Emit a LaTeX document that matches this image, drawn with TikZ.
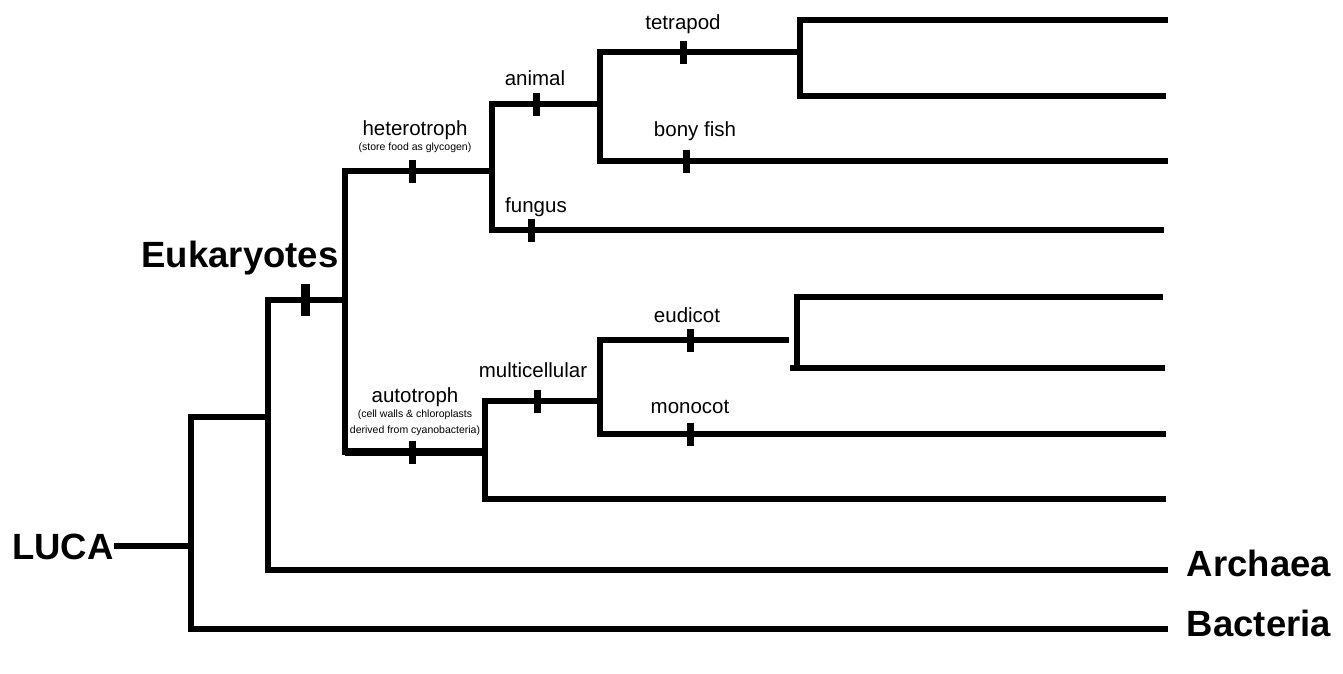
\documentclass[tikz,border=0pt]{standalone}
\usepackage{fontspec}
\setmainfont{Liberation Sans}
\usetikzlibrary{calc}

\begin{document}
\begin{tikzpicture}[x=1pt,y=-1pt,
  branch/.style={line width=6pt,line join=miter},
  tick/.style={line width=7pt},
  lab/.style={anchor=base,inner sep=0pt,font=\fontsize{20.5}{22}\selectfont},
  note/.style={anchor=base,inner sep=0pt,font=\fontsize{10.5}{12}\selectfont},
  big/.style={anchor=base,inner sep=0pt,font=\bfseries\fontsize{36.5}{40}\selectfont}]
\useasboundingbox (0,0) rectangle (1343,673);
% branch points
\coordinate (R) at (191,546);
\coordinate (R1) at (191,417);
\coordinate (R2) at (268,417);
\coordinate (RB) at (191,629);
\coordinate (BT) at (1168,629);
\coordinate (A1) at (268,300);
\coordinate (A2) at (268,570);
\coordinate (AT) at (1168,570);
\coordinate (E) at (345,300);
\coordinate (H1) at (345,171);
\coordinate (H2) at (492,171);
\coordinate (P1) at (345,452);
\coordinate (P2) at (485,452);
\coordinate (N1) at (492,104);
\coordinate (N2) at (600,104);
\coordinate (F1) at (492,230);
\coordinate (FT) at (1164,230);
\coordinate (T1) at (600,52);
\coordinate (T2) at (800,52);
\coordinate (T3) at (800,20);
\coordinate (T4) at (800,96);
\coordinate (TA) at (1168,20);
\coordinate (TB) at (1166,96);
\coordinate (B1) at (600,161);
\coordinate (BF) at (1168,161);
\coordinate (M1) at (485,401);
\coordinate (M2) at (600,401);
\coordinate (M3) at (485,499);
\coordinate (MT) at (1166,499);
\coordinate (D1) at (600,340);
\coordinate (D2) at (789,340);
\coordinate (D3) at (797,297);
\coordinate (D4) at (797,368);
\coordinate (D5) at (790,368);
\coordinate (DA) at (1163,297);
\coordinate (DB) at (1165,368);
\coordinate (O1) at (600,434);
\coordinate (OT) at (1166,434);
% names
\node[big] (luca) at (63,559) {LUCA};
\node[big] (arch) at (1259,576) {Archaea};
\node[big] (bact) at (1259,636) {Bacteria};
\node[big] (euk) at (240,267) {Eukaryotes};
\node[lab] (het) at (415,135) {heterotroph};
\node[note] (hetn) at (415,150) {(store food as glycogen)};
\node[lab] (aut) at (415,402) {autotroph};
\node[note] (autn) at (415,417) {(cell walls \& chloroplasts};
\node[note] (autm) at (415,433) {derived from cyanobacteria)};
\node[lab] (ani) at (535,85) {animal};
\node[lab] (fun) at (536,212) {fungus};
\node[lab] (tet) at (683,29) {tetrapod};
\node[lab] (bon) at (695,136) {bony fish};
\node[lab] (mul) at (533,377) {multicellular};
\node[lab] (eud) at (687,322) {eudicot};
\node[lab] (mon) at (690,413) {monocot};
% tree
\draw[branch] (luca.east |- R)--(R);
\draw[branch] (R2)--(R1)--(RB)--(BT);
\draw[branch] (E)--(A1)--(A2)--(AT);
\draw[branch] (H2)--(H1)--(P1)--(P2);
\draw[branch,line width=8pt] (P1)--(P2);
\draw[branch] (N2)--(N1)--(F1)--(FT);
\draw[branch] (T2)--(T1)--(B1)--(BF);
\draw[branch] (TA)--(T3)--(T4)--(TB);
\draw[branch] (M2)--(M1)--(M3)--(MT);
\draw[branch] (D2)--(D1)--(O1)--(OT);
\draw[branch] (DA)--(D3)--(D4);
\draw[branch] (D5)--(DB);
% ticks
\draw[tick,line width=9pt] (305,300)++(0,-16)--++(0,32);
\draw[tick] (412,171)++(0,-11.5)--++(0,23);
\draw[tick] (412,452)++(0,-11.5)--++(0,23);
\draw[tick] (536,104)++(0,-11.5)--++(0,23);
\draw[tick] (531,230)++(0,-11.5)--++(0,23);
\draw[tick] (683,52)++(0,-11.5)--++(0,23);
\draw[tick] (686,161)++(0,-11.5)--++(0,23);
\draw[tick] (537,401)++(0,-11.5)--++(0,23);
\draw[tick] (690,340)++(0,-11.5)--++(0,23);
\draw[tick] (690,434)++(0,-11.5)--++(0,23);
\end{tikzpicture}
\end{document}
